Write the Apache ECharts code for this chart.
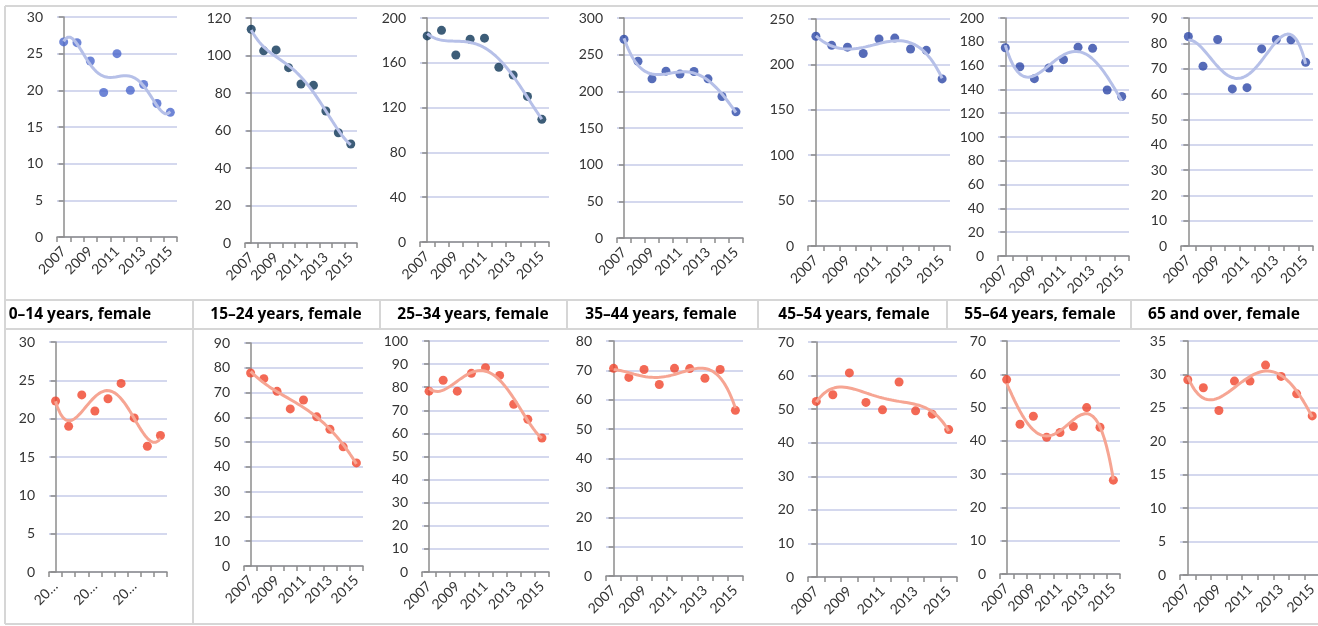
<!DOCTYPE html>
<html>
<head>
<meta charset="utf-8">
<script src="https://cdn.jsdelivr.net/npm/echarts@6/dist/echarts.min.js"></script>
<style>
  html, body { margin: 0; padding: 0; background: #fff; }
  #main { width: 1318px; height: 626px; }
</style>
</head>
<body>
<div id="main"></div>
<script>
// years on every x axis
const years = ['2007', '2008', '2009', '2010', '2011', '2012', '2013', '2014', '2015'];

// top row (male, no titles shown)
const male0014 = [26.6, 26.5, 24.0, 19.7, 25.0, 20.0, 20.8, 18.2, 17.0];
const male1524 = [114, 102.5, 103, 93.5, 84.8, 84.1, 70.4, 58.8, 52.8];
const male2534 = [184, 189, 167, 181, 182, 156, 149, 130, 109.5];
const male3544 = [271, 241, 217, 227.5, 223.5, 227, 217, 193, 172];
const male4554 = [231, 221, 219, 212, 228, 229, 217, 215.5, 184];
const male5564 = [175, 159, 149, 158, 165, 175.5, 174.5, 139.5, 134];
const male65up = [82.7, 71, 81.5, 62, 62.5, 77.8, 81.5, 81.4, 72.5];

// bottom row (female)
const female0014 = [22.3, 19.0, 23.1, 21.0, 22.6, 24.6, 20.1, 16.4, 17.8];
const female1524 = [77.9, 75.6, 70.5, 63.4, 67.0, 60.2, 55.2, 48.1, 41.6];
const female2534 = [78.3, 83.0, 78.3, 86.0, 88.4, 85.1, 72.6, 66.1, 58.0];
const female3544 = [70.7, 67.6, 70.3, 65.2, 70.7, 70.6, 67.3, 70.3, 56.4];
const female4554 = [52.3, 54.3, 60.8, 52.0, 49.8, 58.1, 49.5, 48.5, 43.9];
const female5564 = [58.4, 45.0, 47.4, 41.1, 42.5, 44.3, 50.0, 44.1, 28.2];
const female65up = [29.2, 28.0, 24.6, 29.0, 29.0, 31.4, 29.7, 27.1, 23.8];

const femaleTitles = ['0–14 years, female', '15–24 years, female', '25–34 years, female',
  '35–44 years, female', '45–54 years, female', '55–64 years, female', '65 and over, female'];

// y axis ranges [max, interval]
const yRanges = [[30, 5], [120, 20], [200, 40], [300, 50], [250, 50], [200, 20], [90, 10],
                 [30, 5], [90, 10], [100, 10], [80, 10], [70, 10], [70, 10], [35, 5]];

// polynomial order of each trendline
const trendOrder = [5, 4, 4, 4, 4, 4, 4, 4, 4, 4, 4, 4, 4, 4];

// layout: plot boxes [left, top, right, bottom]
const boxes = [
  [57, 17, 177, 237], [245, 18, 357, 243], [420, 18, 549, 242], [617, 18, 743, 238],
  [808, 19, 950, 246], [998, 18, 1129, 256], [1181, 18, 1313, 246],
  [49, 342, 167, 572], [244, 343, 363, 566], [422, 341, 549, 572], [606, 341, 743, 576],
  [808, 342, 957, 577], [1000, 341, 1120, 574], [1180, 341, 1320, 575]
];
const titleCenters = [80, 286, 473, 661, 854, 1040, 1224];

const dotColors = ['#4a66cc', '#0c3556', '#0c3556', '#2c48a8', '#2c46a6', '#2c46a6', '#2c46a6'];
const trendMale = '#b6c0e8';
const dotFemale = '#f0442b';
const trendFemale = '#f6a593';

const seriesData = [male0014, male1524, male2534, male3544, male4554, male5564, male65up,
  female0014, female1524, female2534, female3544, female4554, female5564, female65up];

// least squares polynomial trendline, like the spreadsheet one
function polyFit(ys, order) {
  const n = ys.length, m = order + 1;
  const xs = ys.map((_, i) => i - (n - 1) / 2);
  const A = [];
  for (let r = 0; r < m; r++) {
    const row = [];
    for (let c = 0; c < m; c++) row.push(xs.reduce((s, x) => s + Math.pow(x, r + c), 0));
    row.push(xs.reduce((s, x, i) => s + Math.pow(x, r) * ys[i], 0));
    A.push(row);
  }
  for (let k = 0; k < m; k++) {
    let p = k;
    for (let r = k + 1; r < m; r++) if (Math.abs(A[r][k]) > Math.abs(A[p][k])) p = r;
    const tmp = A[k]; A[k] = A[p]; A[p] = tmp;
    for (let r = 0; r < m; r++) {
      if (r === k) continue;
      const f = A[r][k] / A[k][k];
      for (let c = k; c <= m; c++) A[r][c] -= f * A[k][c];
    }
  }
  const coef = A.map((row, k) => row[m] / row[k]);
  const pts = [];
  for (let t = 0; t <= (n - 1) + 1e-9; t += 0.05) {
    const x = t - (n - 1) / 2;
    let y = 0;
    for (let k = 0; k < m; k++) y += coef[k] * Math.pow(x, k);
    pts.push([t, y]);
  }
  return pts;
}

const grids = [], xAxes = [], yAxes = [], series = [];
const axisGrey = '#8c8c8c';
const labelColor = '#333';
const font = 'Lato, "Noto Sans", sans-serif';

seriesData.forEach((vals, i) => {
  const b = boxes[i];
  const female = i >= 7;
  grids.push({ left: b[0], top: b[1], width: b[2] - b[0], height: b[3] - b[1], outerBoundsMode: 'none' });
  xAxes.push({
    type: 'category', gridIndex: i, data: years, boundaryGap: true,
    axisLine: { lineStyle: { color: axisGrey, width: 1.5 } },
    axisTick: { show: true, interval: 0, length: 5, lineStyle: { color: axisGrey, width: 1.5 } },
    axisLabel: {
      rotate: 45, interval: i === 7 ? 2 : 1, margin: 12, fontSize: 14, color: labelColor, fontFamily: font,
      formatter: i === 7 ? (v => v.slice(0, 2) + '…') : undefined
    },
    splitLine: { show: false }
  });
  xAxes.push({
    type: 'value', gridIndex: i, min: -0.5, max: 8.5, show: false
  });
  yAxes.push({
    type: 'value', gridIndex: i, min: 0, max: yRanges[i][0], interval: yRanges[i][1],
    axisLine: { show: true, lineStyle: { color: axisGrey, width: 1.5 } },
    axisTick: { show: true, length: 5, lineStyle: { color: axisGrey, width: 1.5 } },
    axisLabel: { margin: 14, fontSize: 14, color: labelColor, fontFamily: font },
    splitLine: { show: true, lineStyle: { color: '#c6cbe9', width: 1.5 } }
  });
  series.push({
    type: 'scatter', xAxisIndex: 2 * i, yAxisIndex: i, data: vals,
    symbolSize: 9, itemStyle: { color: female ? dotFemale : dotColors[i] }, z: 2
  });
  series.push({
    type: 'line', xAxisIndex: 2 * i + 1, yAxisIndex: i, data: polyFit(vals, trendOrder[i]),
    showSymbol: false, smooth: false, silent: true,
    lineStyle: { color: female ? trendFemale : trendMale, width: 3 }, z: 3
  });
});

// table cell borders and title row
const border = { stroke: '#d6d6d6', lineWidth: 2 };
const graphics = [];
function hline(y, x1, x2) { graphics.push({ type: 'line', shape: { x1: x1, y1: y, x2: x2, y2: y }, style: border, z: -1 }); }
function vline(x, y1, y2) { graphics.push({ type: 'line', shape: { x1: x, y1: y1, x2: x, y2: y2 }, style: border, z: -1 }); }
hline(6, 5, 1318);
hline(300, 5, 1318);
hline(329, 5, 1318);
hline(624, 5, 1318);
vline(5, 6, 624);
vline(193, 300, 624);
[380, 567, 758, 947, 1131].forEach(x => vline(x, 300, 329));
femaleTitles.forEach((t, i) => {
  graphics.push({
    type: 'text', x: titleCenters[i], y: 315, z: 5,
    style: { text: t, textAlign: 'center', textVerticalAlign: 'middle',
      font: 'bold 15.5px "Open Sans", Lato, sans-serif', fill: '#000' }
  });
});

const chart = echarts.init(document.getElementById('main'));
chart.setOption({
  animation: false,
  grid: grids,
  xAxis: xAxes,
  yAxis: yAxes,
  series: series,
  graphic: graphics
});
</script>
</body>
</html>
